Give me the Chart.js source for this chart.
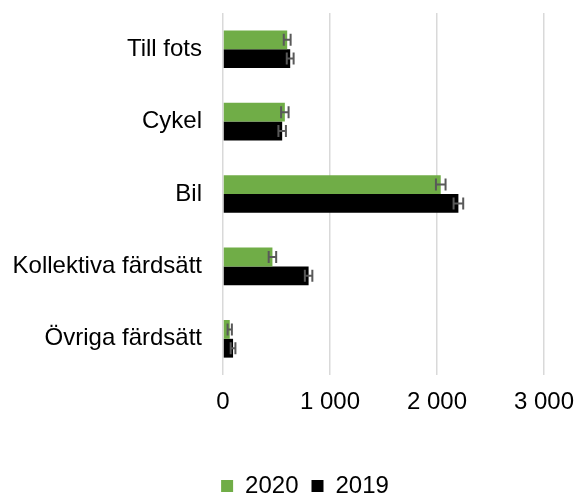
<!DOCTYPE html>
<html>
<head>
<meta charset="utf-8">
<script src="https://cdn.jsdelivr.net/npm/chart.js@4/dist/chart.umd.min.js"></script>
<style>
  html, body { margin: 0; padding: 0; background: #fff; }
  #wrap { width: 575px; height: 495px; }
</style>
</head>
<body>
<div id="wrap"><canvas id="chart"></canvas></div>
<script>
    const categories = ['Till fots', 'Cykel', 'Bil', 'Kollektiva färdsätt', 'Övriga färdsätt'];
    const values2020 = [600, 578, 2035, 462, 63];
    const values2019 = [628, 553, 2200, 800, 94];
    const errors2020 = [32, 35, 45, 35, 20];
    const errors2019 = [32, 35, 45, 35, 22];
    const xTicks = [0, 1000, 2000, 3000];

    // horizontal error bars with end caps, drawn through the chart's own scales
    const errorBars = {
        id: 'errorBars',
        afterDatasetsDraw(chart) {
            const { ctx, scales } = chart;
            const errs = [errors2020, errors2019];
            ctx.save();
            ctx.strokeStyle = '#595959';
            ctx.lineWidth = 2;
            chart.data.datasets.forEach((ds, di) => {
                const meta = chart.getDatasetMeta(di);
                meta.data.forEach((bar, i) => {
                    const v = ds.data[i];
                    const lo = scales.x.getPixelForValue(v - errs[di][i]);
                    const hi = scales.x.getPixelForValue(v + errs[di][i]);
                    const y = bar.y;
                    const cap = 6;
                    ctx.beginPath();
                    ctx.moveTo(lo, y); ctx.lineTo(hi, y);
                    ctx.moveTo(lo, y - cap); ctx.lineTo(lo, y + cap);
                    ctx.moveTo(hi, y - cap); ctx.lineTo(hi, y + cap);
                    ctx.stroke();
                });
            });
            ctx.restore();
        }
    };

    // the legend sits a bit right of centre, under the plot
    const legendShift = {
        id: 'legendShift',
        afterLayout(chart) {
            chart.legend.left += 33;
            chart.legend.right += 33;
        }
    };

    const fontFamily = '"Liberation Sans", Arial, sans-serif';

    new Chart(document.getElementById('chart'), {
        type: 'bar',
        data: {
            labels: categories,
            datasets: [
                { label: '2020', data: values2020, backgroundColor: '#70ad47', borderWidth: 0 },
                { label: '2019', data: values2019, backgroundColor: '#000000', borderWidth: 0 }
            ]
        },
        options: {
            indexAxis: 'y',
            responsive: true,
            maintainAspectRatio: false,
            animation: false,
            layout: { padding: { top: 13, right: 31, bottom: 0, left: 0 } },
            datasets: { bar: { categoryPercentage: 0.52, barPercentage: 1 } },
            plugins: {
                legend: {
                    position: 'bottom',
                    maxHeight: 34,
                    labels: {
                        boxWidth: 12,
                        boxHeight: 12,
                        padding: 13,
                        color: '#000',
                        font: { family: fontFamily, size: 24 }
                    }
                },
                tooltip: { enabled: false }
            },
            scales: {
                x: {
                    min: 0,
                    max: 3000,
                    afterBuildTicks: (scale) => { scale.ticks = xTicks.map(v => ({ value: v })); },
                    ticks: {
                        padding: 13,
                        color: '#000',
                        font: { family: fontFamily, size: 24 },
                        callback: (value) => String(value).replace(/\B(?=(\d{3})+(?!\d))/g, ' ')
                    },
                    grid: { color: '#d9d9d9', lineWidth: 1.5, drawTicks: false },
                    border: { display: false },
                    afterFit: (scale) => {
                        scale.height = 86;
                        scale.paddingLeft = 0;
                        scale.paddingRight = 0;
                    }
                },
                y: {
                    ticks: {
                        padding: 21,
                        color: '#000',
                        font: { family: fontFamily, size: 24 }
                    },
                    grid: { display: false, drawTicks: false },
                    border: { display: false },
                    afterFit: (scale) => {
                        scale.width = 223;
                        scale.paddingTop = 0;
                        scale.paddingBottom = 0;
                    }
                }
            }
        },
        plugins: [errorBars, legendShift]
    });
</script>
</body>
</html>
